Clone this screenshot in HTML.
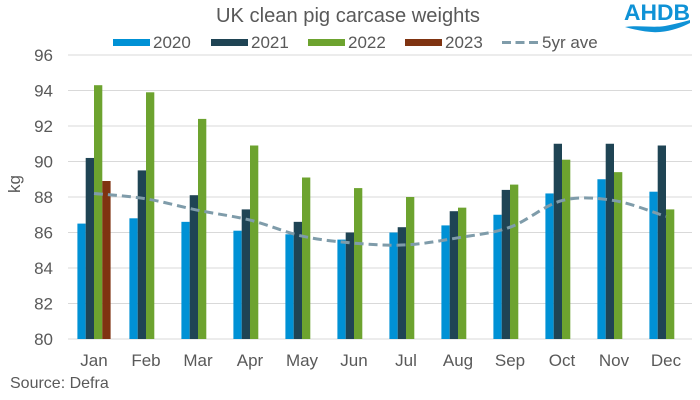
<!DOCTYPE html>
<html>
<head>
<meta charset="utf-8">
<style>
html,body{margin:0;padding:0;background:#fff;}
svg{display:block;}
text{font-family:"Liberation Sans",Arial,sans-serif;fill:#595959;}
</style>
</head>
<body>
<svg width="700" height="400" viewBox="0 0 700 400" xmlns="http://www.w3.org/2000/svg">
<rect width="700" height="400" fill="#fff"/>
<!-- Title -->
<text x="348" y="22" font-size="20" text-anchor="middle" textLength="264" lengthAdjust="spacingAndGlyphs">UK clean pig carcase weights</text>
<!-- Logo -->
<text x="657" y="20" font-size="22" font-weight="bold" text-anchor="middle" style="fill:#0f92d6" textLength="66" lengthAdjust="spacingAndGlyphs">AHDB</text>
<path d="M625,27 C640,25 652,28 665,26 C675,24 683,22 690,20 L690,23 C682,27 672,31 660,32 C648,33 636,30 625,27 Z" fill="#0f92d6"/>
<!-- Legend -->
<rect x="113" y="39" width="37" height="7" fill="#0091D5"/>
<text x="153" y="48" font-size="17">2020</text>
<rect x="211" y="39" width="37" height="7" fill="#1F4454"/>
<text x="251" y="48" font-size="17">2021</text>
<rect x="308" y="39" width="37" height="7" fill="#6DA32F"/>
<text x="348" y="48" font-size="17">2022</text>
<rect x="405" y="39" width="37" height="7" fill="#7F3311"/>
<text x="445" y="48" font-size="17">2023</text>
<line x1="502" y1="42.5" x2="538" y2="42.5" stroke="#7F9CAA" stroke-width="3" stroke-dasharray="9 4.5"/>
<text x="542" y="48" font-size="17">5yr ave</text>
<!-- Gridlines -->
<g stroke="#D9D9D9" stroke-width="1">
<line x1="68" y1="55" x2="692" y2="55"/>
<line x1="68" y1="90.5" x2="692" y2="90.5"/>
<line x1="68" y1="126" x2="692" y2="126"/>
<line x1="68" y1="161.5" x2="692" y2="161.5"/>
<line x1="68" y1="197" x2="692" y2="197"/>
<line x1="68" y1="232.5" x2="692" y2="232.5"/>
<line x1="68" y1="268" x2="692" y2="268"/>
<line x1="68" y1="303.5" x2="692" y2="303.5"/>
<line x1="68" y1="339" x2="692" y2="339"/>
</g>
<!-- Y labels -->
<g font-size="17" text-anchor="end">
<text x="53" y="61">96</text>
<text x="53" y="96.5">94</text>
<text x="53" y="132">92</text>
<text x="53" y="167.5">90</text>
<text x="53" y="203">88</text>
<text x="53" y="238.5">86</text>
<text x="53" y="274">84</text>
<text x="53" y="309.5">82</text>
<text x="53" y="345">80</text>
</g>
<text transform="translate(20,184) rotate(-90)" font-size="17" text-anchor="middle">kg</text>
<!-- Bars 2020 -->
<g fill="#0091D5">
<rect x="77.4" y="223.6" width="8.3" height="115.4"/>
<rect x="129.4" y="218.3" width="8.3" height="120.7"/>
<rect x="181.4" y="221.85" width="8.3" height="117.15"/>
<rect x="233.4" y="230.7" width="8.3" height="108.3"/>
<rect x="285.4" y="234.3" width="8.3" height="104.7"/>
<rect x="337.4" y="239.6" width="8.3" height="99.4"/>
<rect x="389.4" y="232.5" width="8.3" height="106.5"/>
<rect x="441.4" y="225.4" width="8.3" height="113.6"/>
<rect x="493.4" y="214.75" width="8.3" height="124.25"/>
<rect x="545.4" y="193.45" width="8.3" height="145.55"/>
<rect x="597.4" y="179.25" width="8.3" height="159.75"/>
<rect x="649.4" y="191.7" width="8.3" height="147.3"/>
</g>
<!-- Bars 2021 -->
<g fill="#1F4454">
<rect x="85.7" y="157.95" width="8.3" height="181.05"/>
<rect x="137.7" y="170.4" width="8.3" height="168.6"/>
<rect x="189.7" y="195.2" width="8.3" height="143.8"/>
<rect x="241.7" y="209.4" width="8.3" height="129.6"/>
<rect x="293.7" y="221.85" width="8.3" height="117.15"/>
<rect x="345.7" y="232.5" width="8.3" height="106.5"/>
<rect x="397.7" y="227.2" width="8.3" height="111.8"/>
<rect x="449.7" y="211.2" width="8.3" height="127.8"/>
<rect x="501.7" y="189.9" width="8.3" height="149.1"/>
<rect x="553.7" y="143.75" width="8.3" height="195.25"/>
<rect x="605.7" y="143.75" width="8.3" height="195.25"/>
<rect x="657.7" y="145.5" width="8.3" height="193.5"/>
</g>
<!-- Bars 2022 -->
<g fill="#6DA32F">
<rect x="94" y="85.2" width="8.3" height="253.8"/>
<rect x="146" y="92.3" width="8.3" height="246.7"/>
<rect x="198" y="118.9" width="8.3" height="220.1"/>
<rect x="250" y="145.5" width="8.3" height="193.5"/>
<rect x="302" y="177.5" width="8.3" height="161.5"/>
<rect x="354" y="188.1" width="8.3" height="150.9"/>
<rect x="406" y="197" width="8.3" height="142"/>
<rect x="458" y="207.65" width="8.3" height="131.35"/>
<rect x="510" y="184.6" width="8.3" height="154.4"/>
<rect x="562" y="159.7" width="8.3" height="179.3"/>
<rect x="614" y="172.15" width="8.3" height="166.85"/>
<rect x="666" y="209.4" width="8.3" height="129.6"/>
</g>
<!-- Bars 2023 -->
<rect x="102.3" y="181" width="8.3" height="158" fill="#7F3311"/>
<!-- 5yr ave line -->
<path d="M94,193.45 C102.67,194.34 128.67,195.99 146,198.8 C163.33,201.61 180.67,206.75 198,210.3 C215.33,213.85 232.67,215.81 250,220.1 C267.33,224.39 284.67,232.21 302,236.05 C319.33,239.89 336.67,241.68 354,243.15 C371.33,244.63 388.67,245.79 406,244.9 C423.33,244.01 440.67,240.75 458,237.8 C475.33,234.85 492.67,233.41 510,227.2 C527.33,220.99 544.67,204.99 562,200.55 C579.33,196.11 596.67,197.89 614,200.55 C631.33,203.21 657.33,213.84 666,216.5" fill="none" stroke="#7F9CAA" stroke-width="3" stroke-dasharray="9 5"/>
<!-- X labels -->
<g font-size="17" text-anchor="middle">
<text x="94" y="366">Jan</text>
<text x="146" y="366">Feb</text>
<text x="198" y="366">Mar</text>
<text x="250" y="366">Apr</text>
<text x="302" y="366">May</text>
<text x="354" y="366">Jun</text>
<text x="406" y="366">Jul</text>
<text x="458" y="366">Aug</text>
<text x="510" y="366">Sep</text>
<text x="562" y="366">Oct</text>
<text x="614" y="366">Nov</text>
<text x="666" y="366">Dec</text>
</g>
<text x="10" y="388" font-size="16">Source: Defra</text>
</svg>
</body>
</html>
